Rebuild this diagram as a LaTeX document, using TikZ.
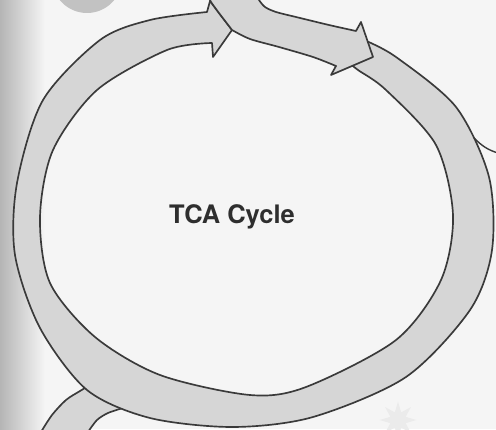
\documentclass[tikz,border=0pt]{standalone}
\usepackage{fontspec}
\newfontfamily\helv{TeX Gyre Heros}
\usetikzlibrary{shapes.geometric}
\definecolor{bandfill}{HTML}{D6D6D6}
\definecolor{ink}{HTML}{3A3A3A}
\definecolor{paper}{HTML}{F5F5F5}
\definecolor{smudge}{HTML}{C2C2C2}
\tikzset{
  band/.style={fill=bandfill,draw=ink,line width=0.95pt,line join=round},
  thinline/.style={draw=ink,line width=0.8pt},
  cyclelabel/.style={font=\helv\bfseries\fontsize{14.5}{17}\selectfont,text=ink!80!black}
}

\begin{document}
\begin{tikzpicture}[x=0.02cm,y=-0.02cm]
  \useasboundingbox (0,0) rectangle (496,429);
  \clip (0,0) rectangle (496,429);
  % paper, scan shadow and stray marks
  \fill[paper] (0,0) rectangle (496,429);
  \shade[left color=gray!58,right color=paper] (0,0) rectangle (45,429);
  \fill[smudge] (87,-22) circle[radius=35];
  \node[star,star points=8,star point ratio=2.2,fill=gray!16,minimum size=17pt] (glow) at (398,420) {};

  % branch coming in from the lower left
  \path[band] plot[smooth] coordinates {(41,432) (52,415) (66,400) (80,391) (95,382)}
    -- (130,395) -- plot[smooth] coordinates {(123,408) (108,413) (97,420) (88,432)} -- cycle;

  % main band, ends in the arrow at the top
  \coordinate (lefttip) at (232,30);
  \path[band] plot[smooth] coordinates {(364,40) (396,57) (456,107) (489,177) (492,250)
      (470,310) (406,377) (313,417) (233,427) (150,418) (87,390) (40,328) (15,255)
      (17,183) (43,100) (100,40) (150,20) (207,12)}
    -- (210,1) -- (219,13) -- (lefttip) -- (213,57)
    -- plot[smooth] coordinates {(212,43) (167,50) (97,90) (53,150) (40,217) (50,283)
      (95,337) (160,375) (250,395) (306,387) (396,340) (441,280) (453,215) (436,145)
      (386,90) (358,70) (348,62)} -- cycle;

  % band from the top, turning right into the second arrow
  \coordinate (righttip) at (373,57);
  \path[band] plot[smooth] coordinates {(208,-4) (211,2) (219,13) (lefttip)}
    -- plot[smooth] coordinates {(lefttip) (250,39) (279,47) (313,57) (336,66)}
    -- (331,75) -- (righttip) -- (361,22) -- (356,31)
    -- plot[smooth] coordinates {(356,31) (329,25) (296,17) (276,12) (265,7) (259,0) (257,-4)}
    -- cycle;

  % line leaving on the right
  \coordinate (outerright) at (474,138);
  \draw[thinline] (outerright) .. controls (482,146) and (488,150) .. (498,153);

  \node[cyclelabel] (title) at (232,217) {TCA Cycle};
\end{tikzpicture}
\end{document}
